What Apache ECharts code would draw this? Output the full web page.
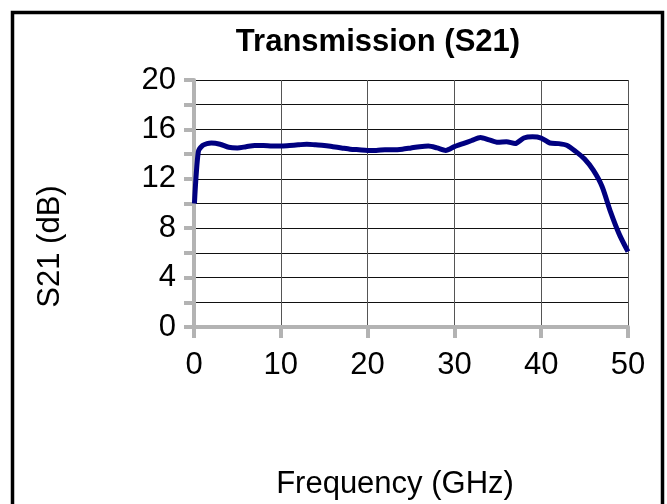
<!DOCTYPE html>
<html>
<head>
<meta charset="utf-8">
<script src="https://cdn.jsdelivr.net/npm/echarts@6/dist/echarts.min.js"></script>
<style>html,body{margin:0;padding:0;background:#fff}#c{width:667px;height:504px}</style>
</head>
<body>
<div id="c"></div>
<script>
var frequencies = [0.05, 0.5, 1, 1.5, 2, 3, 4, 5, 6, 7, 8, 9, 10, 11, 12, 13, 14, 15, 16, 17, 18, 19, 20, 21, 22, 23, 24, 25, 26, 27, 28, 29, 30, 31, 32, 33, 34, 35, 36, 37, 38, 39, 40, 41, 42, 43, 44, 45, 46, 47, 48, 49, 50];
var s21Values  = [10.0, 14.2, 14.7, 14.85, 14.9, 14.8, 14.55, 14.5, 14.6, 14.7, 14.7, 14.65, 14.65, 14.7, 14.75, 14.8, 14.75, 14.7, 14.6, 14.5, 14.4, 14.35, 14.3, 14.3, 14.35, 14.35, 14.4, 14.5, 14.6, 14.65, 14.5, 14.3, 14.6, 14.85, 15.1, 15.35, 15.15, 14.95, 15.0, 14.85, 15.3, 15.4, 15.3, 14.9, 14.85, 14.7, 14.2, 13.6, 12.7, 11.4, 9.3, 7.5, 6.1];
var xTicks = [0, 10, 20, 30, 40, 50];
var yTicks = [0, 4, 8, 12, 16, 20];

var seriesData = frequencies.map(function (f, i) { return [f, s21Values[i]]; });
var FONT = 'Liberation Sans, Arial, sans-serif';
var FS = 31;

var chart = echarts.init(document.getElementById('c'), null, {renderer: 'canvas'});
chart.setOption({
  animation: false,
  backgroundColor: '#ffffff',
  title: {
    text: 'Transmission (S21)',
    left: 373,
    top: 22,
    textAlign: 'center',
    textStyle: {fontFamily: FONT, fontSize: FS, fontWeight: 'bold', color: '#000'}
  },
  graphic: [{
    type: 'rect',
    shape: {x: 12.5, y: 12.5, width: 650, height: 600},
    style: {fill: 'none', stroke: '#000', lineWidth: 3.5},
    silent: true
  }],
  grid: {left: 194, right: 39, top: 80, bottom: 177, containLabel: false},
  xAxis: {
    type: 'value',
    min: xTicks[0],
    max: xTicks[xTicks.length - 1],
    interval: 10,
    name: 'Frequency (GHz)',
    nameLocation: 'middle',
    nameGap: 142,
    nameTextStyle: {fontFamily: FONT, fontSize: FS, color: '#000', padding: [0, 32, 0, 0]},
    axisLine: {show: true, onZero: false, lineStyle: {color: '#b3b3b3', width: 4}},
    axisTick: {show: true, length: 11, lineStyle: {color: '#b3b3b3', width: 4}},
    axisLabel: {fontFamily: FONT, fontSize: FS, color: '#000', margin: 23},
    splitLine: {show: true, lineStyle: {color: '#555', width: 1}}
  },
  yAxis: {
    type: 'value',
    min: 0,
    max: 20,
    interval: 2,
    name: 'S21 (dB)',
    nameLocation: 'middle',
    nameGap: 128,
    nameRotate: 90,
    nameTextStyle: {fontFamily: FONT, fontSize: FS, color: '#000', padding: [0, 86, 0, 0]},
    axisLine: {show: true, lineStyle: {color: '#b3b3b3', width: 4}},
    axisTick: {show: true, length: 10, lineStyle: {color: '#b3b3b3', width: 4}},
    axisLabel: {
      fontFamily: FONT, fontSize: FS, color: '#000', margin: 18,
      formatter: function (v) { return yTicks.indexOf(v) >= 0 ? String(v) : ''; }
    },
    splitLine: {show: true, lineStyle: {color: '#111', width: 1}}
  },
  series: [{
    type: 'line',
    data: seriesData,
    showSymbol: false,
    smooth: 0.25,
    lineStyle: {color: '#000080', width: 5},
    itemStyle: {color: '#000080'}
  }]
});
</script>
</body>
</html>
